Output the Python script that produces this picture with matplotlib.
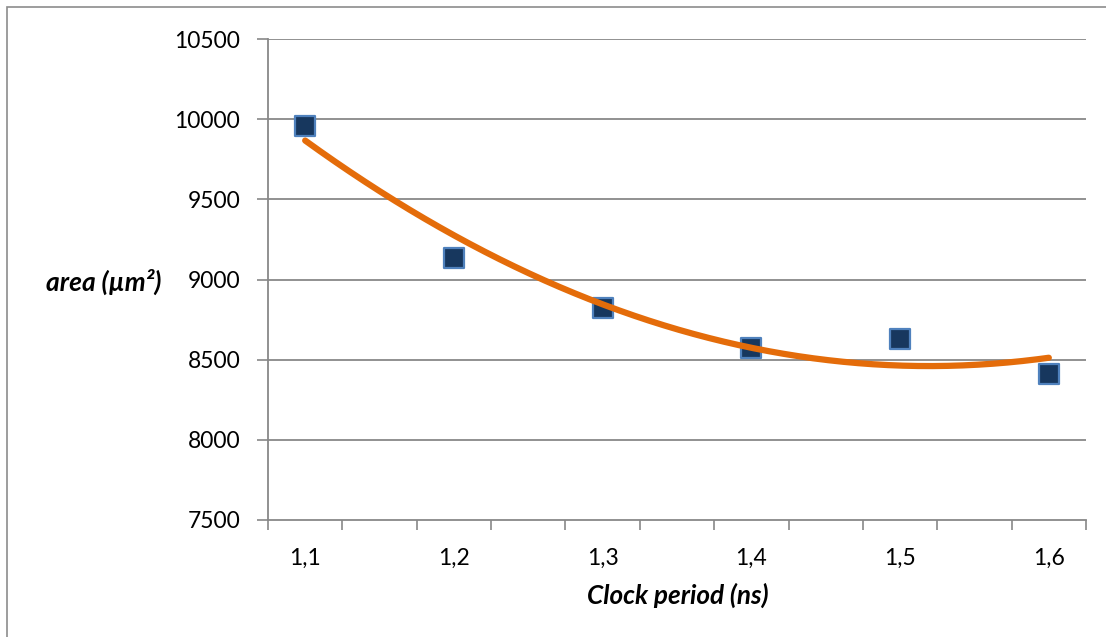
import numpy as np
import matplotlib
matplotlib.use("Agg")
import matplotlib.pyplot as plt
from matplotlib.patches import Rectangle

# Synthesis results: area versus target clock period
clock_period = [1.1, 1.2, 1.3, 1.4, 1.5, 1.6]
area = [9956, 9137, 8825, 8575, 8631, 8413]
x_labels = ["1,1", "1,2", "1,3", "1,4", "1,5", "1,6"]
y_ticks = [7500, 8000, 8500, 9000, 9500, 10000, 10500]

plt.rcParams["font.family"] = ["Lato", "DejaVu Sans"]

W, H = 1106, 637
fig = plt.figure(figsize=(W / 100, H / 100), dpi=100)
ax = fig.add_axes([268 / W, 1 - 520 / H, (1086 - 268) / W, (520 - 39) / H])

# chart-area border
fig.patches.append(Rectangle((7 / W, -0.1), 1.2, 1 - 7 / H + 0.1,
                             transform=fig.transFigure, fill=False,
                             edgecolor="#8c8c8c", linewidth=1.2))

grid_c = "#888888"
ax.set_xlim(1.075, 1.625)
ax.set_ylim(7500, 10500)
ax.set_yticks(y_ticks)
ax.set_yticklabels([str(v) for v in y_ticks])
for y in y_ticks[1:]:
    ax.axhline(y, color=grid_c, linewidth=1.3, zorder=1)

# x tick marks every 0.05, labels at the category centres
ax.set_xticks(np.arange(1.075, 1.63, 0.05), minor=True)
ax.set_xticks(clock_period)
ax.set_xticklabels(x_labels)
ax.tick_params(axis="x", which="major", length=0, pad=20, labelsize=16.5, colors="black")
ax.tick_params(axis="x", which="minor", length=7, width=1.2, color=grid_c, direction="out")
ax.tick_params(axis="y", length=8, width=1.2, color=grid_c, direction="out",
               labelsize=16.5, pad=12)

for s in ["top", "right"]:
    ax.spines[s].set_visible(False)
for s in ["left", "bottom"]:
    ax.spines[s].set_color(grid_c)
    ax.spines[s].set_linewidth(1.3)

# data points
ax.scatter(clock_period, area, marker="s", s=210, facecolor="#17375E",
           edgecolor="#4F81BD", linewidth=1.6, zorder=3)

# second-order polynomial trendline
coef = np.polyfit(clock_period, area, 2)
xs = np.linspace(clock_period[0], clock_period[-1], 200)
ax.plot(xs, np.polyval(coef, xs), color="#E46C0A", linewidth=4.5,
        solid_capstyle="round", zorder=4)

fig.text(678 / W, 1 - 595 / H, "Clock period (ns)", fontsize=18.8, fontweight="bold",
         style="italic", ha="center", va="center")
fig.text(104 / W, 1 - 282 / H, "area (µm²)", fontsize=19, fontweight="bold",
         style="italic", ha="center", va="center")

fig.savefig("out.png", dpi=100)
